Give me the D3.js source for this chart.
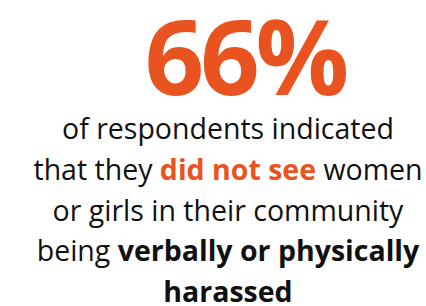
<!DOCTYPE html>
<html>
<head>
<meta charset="utf-8">
<script src="https://cdn.jsdelivr.net/npm/d3@7"></script>
<style>
  body { margin: 0; background: #fff; }
</style>
</head>
<body>
<svg id="chart"></svg>
<script>
// headline figure
const stat = 66;
const statSuffix = "%";
// sentence, split per line; each piece is [text, style]
const lines = [
  [["of respondents indicated", "normal"]],
  [["that they ", "normal"], ["did not see", "accent"], [" women", "normal"]],
  [["or girls in their community", "normal"]],
  [["being ", "normal"], ["verbally or physically", "bold"]],
  [["harassed", "bold"]]
];

const width = 426;
const height = 306;
const fontFamily = "Open Sans, Noto Sans, sans-serif";
const orange = "#e8531f";
const ink = "#111111";

const svg = d3.select("#chart")
  .attr("width", width)
  .attr("height", height)
  .style("font-family", fontFamily);

const cx = 228;

svg.append("text")
  .attr("x", 245)
  .attr("y", 95)
  .attr("text-anchor", "middle")
  .style("font-size", "104px")
  .style("font-weight", "bold")
  .style("fill", orange)
  .style("letter-spacing", "-4px")
  .text(stat + statSuffix);

const y = d3.scaleLinear().domain([0, lines.length - 1]).range([139, 302]);

svg.append("g")
  .selectAll("text")
  .data(lines)
  .join("text")
  .attr("x", cx)
  .attr("y", (d, i) => y(i))
  .attr("text-anchor", "middle")
  .style("font-size", "28.5px")
  .style("fill", ink)
  .selectAll("tspan")
  .data(d => d)
  .join("tspan")
  .style("font-weight", d => d[1] === "normal" ? "normal" : "bold")
  .style("fill", d => d[1] === "accent" ? orange : ink)
  .text(d => d[0]);
</script>
</body>
</html>
